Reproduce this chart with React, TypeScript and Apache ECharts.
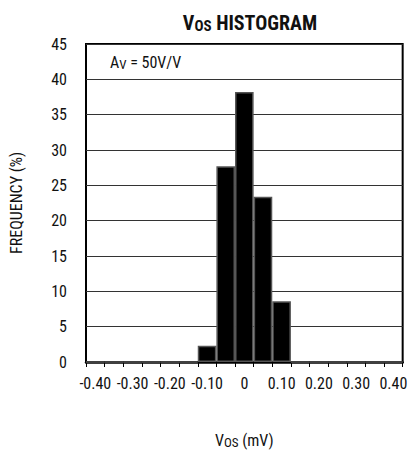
import React, { useEffect, useRef } from "react";
import * as echarts from "echarts";

const binLabels = [
  "-0.40", "-0.35", "-0.30", "-0.25", "-0.20", "-0.15", "-0.10", "-0.05",
  "0", "0.05", "0.10", "0.15", "0.20", "0.25", "0.30", "0.35", "0.40",
];
const frequency = [0, 0, 0, 0, 0, 0, 2.3, 27.7, 38.2, 23.4, 8.6, 0, 0, 0, 0, 0, 0];
const yMin = 0;
const yMax = 45;
const yStep = 5;

const FONT = '"Roboto Condensed", "Liberation Sans Narrow", sans-serif';

export default function App() {
  const ref = useRef<HTMLDivElement>(null);
  useEffect(() => {
    if (!ref.current) return;
    const chart = echarts.init(ref.current, undefined, { renderer: "svg" });
    chart.setOption({
      animation: false,
      backgroundColor: "#fff",
      textStyle: { fontFamily: FONT, color: "#111" },
      title: {
        text: "{b|V}{s|OS}{b| HISTOGRAM}",
        left: 245,
        top: 6,
        textAlign: "center",
        textStyle: {
          rich: {
            b: { fontFamily: FONT, fontSize: 20, fontWeight: "bold", color: "#111", lineHeight: 24 },
            s: { fontFamily: FONT, fontSize: 15, fontWeight: "bold", color: "#111", lineHeight: 24, padding: [6, 0, 0, 0] },
          },
        },
      },
      grid: {
        left: 81,
        right: 2,
        top: 44,
        bottom: 81,
        show: true,
        borderColor: "#000",
        borderWidth: 2,
        containLabel: false,
      },
      xAxis: {
        type: "category",
        data: binLabels,
        boundaryGap: true,
        name: "{n|V}{s|OS}{n| (mV)}",
        nameLocation: "middle",
        nameGap: 68,
        nameTextStyle: {
          rich: {
            n: { fontFamily: FONT, fontSize: 16, color: "#111", lineHeight: 20 },
            s: { fontFamily: FONT, fontSize: 13, color: "#111", lineHeight: 20, padding: [5, 0, 0, 0] },
          },
        },
        axisLine: { show: true, lineStyle: { color: "#000", width: 2.5 } },
        axisTick: { show: true, interval: 0, length: 5, lineStyle: { color: "#000", width: 1 } },
        axisLabel: { interval: 1, fontSize: 16, color: "#111", margin: 13, fontFamily: FONT },
        splitLine: { show: false },
      },
      yAxis: {
        type: "value",
        min: yMin,
        max: yMax,
        interval: yStep,
        name: "FREQUENCY (%)",
        nameLocation: "middle",
        nameGap: 62,
        nameTextStyle: { fontFamily: FONT, fontSize: 16, color: "#111" },
        axisLine: { show: false },
        axisTick: { show: false },
        axisLabel: { fontSize: 16, color: "#111", margin: 19, fontFamily: FONT },
        splitLine: { show: true, lineStyle: { color: "#333", width: 1 } },
      },
      graphic: [
        {
          type: "text",
          left: 110,
          top: 53,
          style: {
            text: "{n|A}{s|V}{n| = 50V/V}",
            rich: {
              n: { fontFamily: FONT, fontSize: 16, fill: "#111", lineHeight: 20 },
              s: { fontFamily: FONT, fontSize: 13, fill: "#111", lineHeight: 20, padding: [5, 0, 0, 0] },
            },
          },
        },
      ],
      series: [
        {
          type: "bar",
          data: frequency,
          barWidth: "100%",
          barCategoryGap: "0%",
          itemStyle: { color: "#000", borderColor: "#555", borderWidth: 1.5 },
          silent: true,
        },
      ],
    });
    return () => chart.dispose();
  }, []);
  return <div ref={ref} style={{ position: "fixed", left: 0, top: 0, width: 410, height: 454 }} />;
}
